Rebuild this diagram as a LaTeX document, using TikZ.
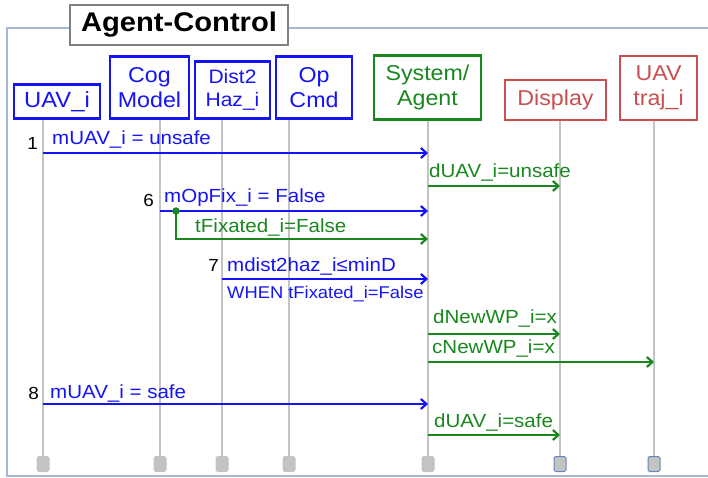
\documentclass[tikz,border=0pt]{standalone}
\usepackage{fontspec}
\setmainfont{Liberation Sans}[FakeStretch=1.08]
\usetikzlibrary{arrows.meta}
\definecolor{msgblue}{RGB}{20,20,245}
\definecolor{msggreen}{RGB}{25,135,30}
\definecolor{hdrred}{RGB}{200,80,80}
\definecolor{framecol}{RGB}{165,185,215}
\definecolor{lifegray}{RGB}{195,195,195}
\definecolor{endblue}{RGB}{100,135,185}
\begin{document}
\begin{tikzpicture}[x=1pt,y=-1pt,
	hdr/.style={draw, line width=2.5pt, fill=white, align=center, inner sep=0pt, anchor=south, font=\fontsize{21.5}{25}\selectfont},
	endbox/.style={draw=lifegray, fill=lifegray, line width=1pt, rounded corners=1.5pt, minimum width=12pt, minimum height=15pt, inner sep=0pt, anchor=north},
	life/.style={draw=lifegray, line width=2.2pt},
	bmsg/.style={draw=msgblue, line width=2.2pt, -{Straight Barb[length=5.5pt,width=10pt]}},
	gmsg/.style={draw=msggreen, line width=2.2pt, -{Straight Barb[length=5.5pt,width=10pt]}},
	blbl/.style={anchor=base west, text=msgblue, inner sep=0pt, font=\fontsize{19}{21}\selectfont},
	glbl/.style={anchor=base west, text=msggreen, inner sep=0pt, font=\fontsize{19}{21}\selectfont},
	num/.style={anchor=base east, inner sep=0pt, font=\fontsize{17.5}{20}\selectfont}]
	\useasboundingbox (0,0) rectangle (708,478);
	\draw[framecol, line width=1.5pt] (7,28) rectangle (714,476);
	\node (title) at (179,25)	[draw=gray, line width=1.5pt, fill=white, minimum width=218pt, minimum height=40pt, font=\bfseries\fontsize{27}{30}\selectfont]	{Agent-Control};
	% lifeline heads
	\node (uav)  at ( 57,120)	[hdr, draw=msgblue, text=msgblue, minimum width=86pt, minimum height=34pt, font=\fontsize{22}{25}\selectfont]	{UAV\_i};
	\node (cog)  at (149.5,120)	[hdr, draw=msgblue, text=msgblue, minimum width=79pt, minimum height=62pt]	{Cog\\Model};
	\node (dist) at (232.5,120)	[hdr, draw=msgblue, text=msgblue, minimum width=75pt, minimum height=57pt, font=\fontsize{19.5}{23}\selectfont]	{Dist2\\Haz\_i};
	\node (op)   at (314,120)	[hdr, draw=msgblue, text=msgblue, minimum width=76pt, minimum height=62pt]	{Op\\Cmd};
	\node (sys)  at (427.5,121)	[hdr, draw=msggreen, text=msggreen, minimum width=107pt, minimum height=64pt]	{System/\\Agent};
	\node (disp) at (555.5,121)	[hdr, draw=hdrred, text=hdrred, line width=2pt, minimum width=101pt, minimum height=40pt]	{Display};
	\node (traj) at (658.5,121)	[hdr, draw=hdrred, text=hdrred, line width=2pt, minimum width=77pt, minimum height=64pt]	{UAV\\traj\_i};
	% lifeline ends
	\node (uavE)  at ( 43,456)	[endbox]	{};
	\node (cogE)  at (160,456)	[endbox]	{};
	\node (distE) at (222,456)	[endbox]	{};
	\node (opE)   at (289,456)	[endbox]	{};
	\node (sysE)  at (428,456)	[endbox]	{};
	\node (dispE) at (560,456)	[endbox, draw=endblue]	{};
	\node (trajE) at (654,456)	[endbox, draw=endblue]	{};
	\foreach \h/\e in {uav/uavE, cog/cogE, dist/distE, op/opE, sys/sysE, disp/dispE, traj/trajE}
		\draw[life] (\e.north) -- (\e |- \h.south);
	% message rows
	\coordinate (m1) at (0,153);
	\coordinate (m2) at (0,186);
	\coordinate (m6) at (0,211);
	\coordinate (m6b) at (0,239);
	\coordinate (m7) at (0,279);
	\coordinate (m9) at (0,334);
	\coordinate (m10) at (0,362);
	\coordinate (m11) at (0,404);
	\coordinate (m12) at (0,435);
	\draw[bmsg] (uavE |- m1) -- (sysE |- m1);
	\draw[gmsg] (sysE |- m2) -- (dispE |- m2);
	\draw[bmsg] (cogE |- m6) -- (sysE |- m6);
	\node (fix) at (176,211)	[circle, fill=msggreen, inner sep=0pt, minimum size=7.5pt]	{};
	\draw[gmsg] (fix.center) |- (sysE |- m6b);
	\draw[bmsg] (distE |- m7) -- (sysE |- m7);
	\draw[gmsg] (sysE |- m9) -- (dispE |- m9);
	\draw[gmsg] (sysE |- m10) -- (trajE |- m10);
	\draw[bmsg] (uavE |- m11) -- (sysE |- m11);
	\draw[gmsg] (sysE |- m12) -- (dispE |- m12);
	% labels
	\node (n1) at ( 38,150)	[num]	{1};
	\node (n6) at (154,207)	[num]	{6};
	\node (n7) at (219,271)	[num]	{7};
	\node (n8) at ( 39,399)	[num]	{8};
	\node (l1)  at ( 52,145)	[blbl]	{mUAV\_i = unsafe};
	\node (l2)  at (429,178)	[glbl]	{dUAV\_i=unsafe};
	\node (l6)  at (164,203)	[blbl]	{mOpFix\_i = False};
	\node (l6b) at (195,232)	[glbl]	{tFixated\_i=False};
	\node (l7)  at (227,271)	[blbl]	{mdist2haz\_i≤minD};
	\node (l7b) at (227,298)	[blbl, font=\fontsize{17}{20}\selectfont]	{WHEN tFixated\_i=False};
	\node (l9)  at (433,323)	[glbl]	{dNewWP\_i=x};
	\node (l10) at (432,353)	[glbl]	{cNewWP\_i=x};
	\node (l11) at ( 50,398)	[blbl]	{mUAV\_i = safe};
	\node (l12) at (434,427)	[glbl]	{dUAV\_i=safe};
\end{tikzpicture}
\end{document}
